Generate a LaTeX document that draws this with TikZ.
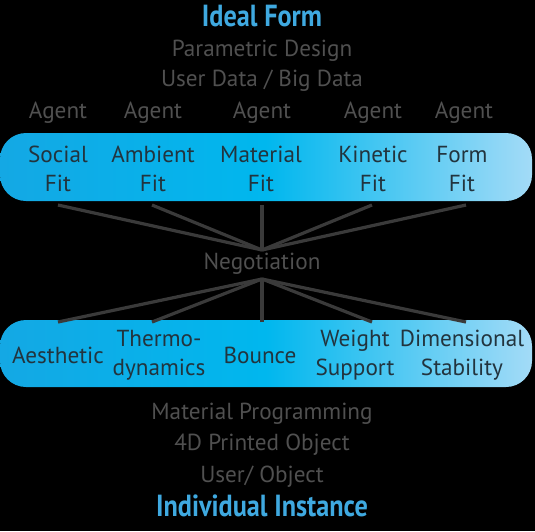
\documentclass[tikz,border=0pt]{standalone}
\usepackage{fontspec}
\setmainfont{PT Sans}
\usetikzlibrary{positioning}
\definecolor{formblue}{HTML}{3FA9E0}
\definecolor{notegray}{HTML}{505050}
\definecolor{fittext}{HTML}{22343E}
\definecolor{bandleft}{HTML}{14A8E4}
\definecolor{bandmid}{HTML}{00B7EE}
\definecolor{bandright}{HTML}{A3DBF7}
\definecolor{linkgray}{HTML}{3A3A3A}

\begin{document}
\begin{tikzpicture}[x=1pt,y=-1pt,
          heading/.style={font=\fontsize{30.5}{32}\selectfont\bfseries\addfontfeature{FakeStretch=0.86},text=formblue},
          note/.style={font=\fontsize{23.2}{26}\selectfont,text=notegray,yshift=-3pt},
          fitlabel/.style={align=center,font=\fontsize{23.2}{28.5}\selectfont,text=fittext,yshift=-1pt},
          band/.style={rounded corners=26pt,left color=bandleft,right color=bandright,middle color=bandmid},
          link/.style={draw=linkgray,line width=3.2pt}
        ]
        \fill[black] (0,0) rectangle (535,531);
        \useasboundingbox (0,0) rectangle (535,531);
        \path[band] (0,133) rectangle (532,201);
        \path[band] (0,320) rectangle (532,387);
        % top part
        \node[heading] (ideal) at (262,16) {Ideal Form};
        \node[note] (param) at (262,48) {Parametric Design};
        \node[note] (userdata) at (262,78) {User Data / Big Data};
        \node[note] (agent1) at (58,110) {Agent};
        \node[note] (agent2) at (153,110) {Agent};
        \node[note] (agent3) at (262,110) {Agent};
        \node[note] (agent4) at (373,110) {Agent};
        \node[note] (agent5) at (464,110) {Agent};
        \node[fitlabel] (social) at (58,168) {Social\\Fit};
        \node[fitlabel] (ambient) at (153,168) {Ambient\\Fit};
        \node[fitlabel] (material) at (261,168) {Material\\Fit};
        \node[fitlabel] (kinetic) at (373,168) {Kinetic\\Fit};
        \node[fitlabel] (form) at (462,168) {Form\\Fit};
        % negotiation hub
        \node[note] (nego) at (262,261) {Negotiation};
        \coordinate (hubtop) at (262,250);
        \coordinate (hubbot) at (262,279);
        \coordinate (t1) at (58,205);
        \coordinate (t2) at (152,205);
        \coordinate (t3) at (262,205);
        \coordinate (t4) at (372,205);
        \coordinate (t5) at (466,205);
        \coordinate (b1) at (58,322);
        \coordinate (b2) at (152,322);
        \coordinate (b3) at (262,322);
        \coordinate (b4) at (372,322);
        \coordinate (b5) at (466,322);
        \draw[link] (t1) -- (hubtop);
        \draw[link] (t2) -- (hubtop);
        \draw[link] (t3) -- (hubtop);
        \draw[link] (t4) -- (hubtop);
        \draw[link] (t5) -- (hubtop);
        \draw[link] (b1) -- (hubbot);
        \draw[link] (b2) -- (hubbot);
        \draw[link] (b3) -- (hubbot);
        \draw[link] (b4) -- (hubbot);
        \draw[link] (b5) -- (hubbot);
        % bottom part
        \node[fitlabel] (aesthetic) at (58,354) {Aesthetic};
        \node[fitlabel] (thermo) at (159,354) {Thermo-\\dynamics};
        \node[fitlabel] (bounce) at (260,354) {Bounce};
        \node[fitlabel] (weight) at (355,354) {Weight\\Support};
        \node[fitlabel] (dimension) at (462,354) {Dimensional\\Stability};
        \node[note] (matprog) at (262,411) {Material Programming};
        \node[note] (printed) at (262,442) {4D Printed Object};
        \node[note] (userobj) at (262,474) {User/ Object};
        \node[heading] (instance) at (262,506) {Individual Instance};
      \end{tikzpicture}
\end{document}
